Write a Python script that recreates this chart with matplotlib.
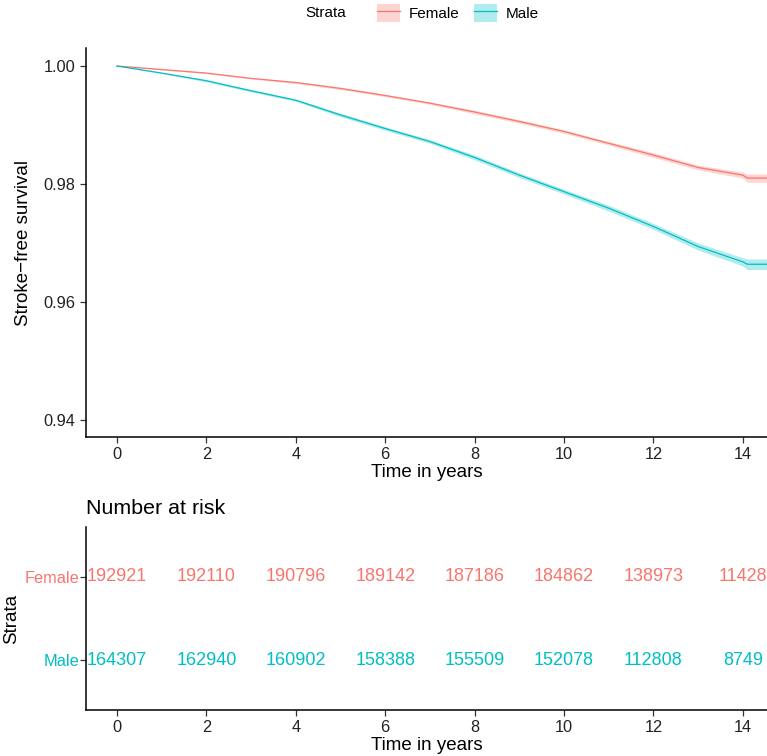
import matplotlib.pyplot as plt
import numpy as np
from matplotlib.patches import Patch
from matplotlib.lines import Line2D

plt.rcParams['font.family'] = ['Liberation Sans', 'DejaVu Sans']

# survival (years)
times = [0, 1, 2, 3, 4, 5, 6, 7, 8, 9, 10, 11, 12, 13, 14, 14.1, 14.55]
surv_female = [1.0, 0.9994, 0.9988, 0.9979, 0.9972, 0.9962, 0.9950, 0.9937, 0.9922,
               0.9906, 0.9889, 0.9869, 0.9849, 0.9828, 0.9815, 0.9810, 0.9810]
surv_male = [1.0, 0.9988, 0.9975, 0.9958, 0.9942, 0.9917, 0.9894, 0.9872, 0.9845,
             0.9815, 0.9787, 0.9759, 0.9728, 0.9694, 0.9668, 0.9664, 0.9664]
ci_female = [0.0, 0.0001, 0.0001, 0.0001, 0.0002, 0.0002, 0.0002, 0.0002, 0.0003,
             0.0003, 0.0003, 0.0003, 0.0004, 0.0004, 0.0005, 0.0007, 0.0007]
ci_male = [0.0, 0.0001, 0.0002, 0.0002, 0.0002, 0.0003, 0.0003, 0.0003, 0.0004,
           0.0004, 0.0004, 0.0005, 0.0005, 0.0006, 0.0007, 0.0009, 0.0009]

risk_times = [0, 2, 4, 6, 8, 10, 12, 14]
risk_female = [192921, 192110, 190796, 189142, 187186, 184862, 138973, 11428]
risk_male = [164307, 162940, 160902, 158388, 155509, 152078, 112808, 8749]

red = '#F8766D'
cyan = '#00BFC4'

fig = plt.figure(figsize=(7.67, 7.56), dpi=100)
ax = fig.add_axes([86/767, 1-437/756, 1-86/767, (437-48)/756])
ax2 = fig.add_axes([86/767, 1-710/756, 1-86/767, (710-527)/756])

for s, ci, c in [(surv_female, ci_female, red), (surv_male, ci_male, cyan)]:
    s = np.array(s)
    ci = np.array(ci)
    ax.fill_between(times, s - ci, s + ci, color=c, alpha=0.3, lw=0)
    ax.plot(times, s, color=c, lw=0.9)

ax.set_xlim(-0.6935, 14.54)
ax.set_ylim(0.93712, 1.00305)
ax.set_xticks(risk_times)
ax.set_yticks([0.94, 0.96, 0.98, 1.00])
ax.set_yticklabels(['0.94', '0.96', '0.98', '1.00'])
ax.set_xlabel('Time in years', fontsize=13.5, labelpad=1)
ax.set_ylabel('Stroke\u2212free survival', fontsize=13.5, labelpad=8)

for a in (ax, ax2):
    for sp in ['top', 'right']:
        a.spines[sp].set_visible(False)
    for sp in ['left', 'bottom']:
        a.spines[sp].set_linewidth(1.1)
    a.tick_params(labelsize=11.8, length=4, width=0.9, colors='#333333', labelcolor='#222222')

# risk table
for y, vals, c in [(2, risk_female, red), (1, risk_male, cyan)]:
    for t, v in zip(risk_times, vals):
        ax2.text(t, y, str(v), color=c, ha='center', va='center', fontsize=13)
ax2.set_xlim(-0.6935, 14.54)
ax2.set_ylim(0.4, 2.6)
ax2.set_xticks(risk_times)
ax2.set_yticks([1, 2])
ax2.set_yticklabels(['Male', 'Female'])
for lab, c in zip(ax2.get_yticklabels(), [cyan, red]):
    lab.set_color(c)
    lab.set_fontsize(11.8)
ax2.tick_params(axis='y', pad=1)
ax2.set_xlabel('Time in years', fontsize=13.5, labelpad=1)
ax2.set_ylabel('Strata', fontsize=13.5, labelpad=3)
ax2.set_title('Number at risk', loc='left', fontsize=15.4, pad=9)

# legend
fig.text(305/767, 1-13/756, 'Strata', fontsize=11, ha='left', va='center')
handles = [(Patch(facecolor=red, alpha=0.3, lw=0), Line2D([], [], color=red, lw=0.9)),
           (Patch(facecolor=cyan, alpha=0.3, lw=0), Line2D([], [], color=cyan, lw=0.9))]
fig.legend(handles, ['Female', 'Male'], loc='center left', bbox_to_anchor=(377/767, 1-13/756),
           ncol=2, frameon=False, fontsize=11, handlelength=1.5, handleheight=1.5,
           columnspacing=0.9, handletextpad=0.6, borderaxespad=0, borderpad=0)

fig.savefig('out.png', dpi=100)
